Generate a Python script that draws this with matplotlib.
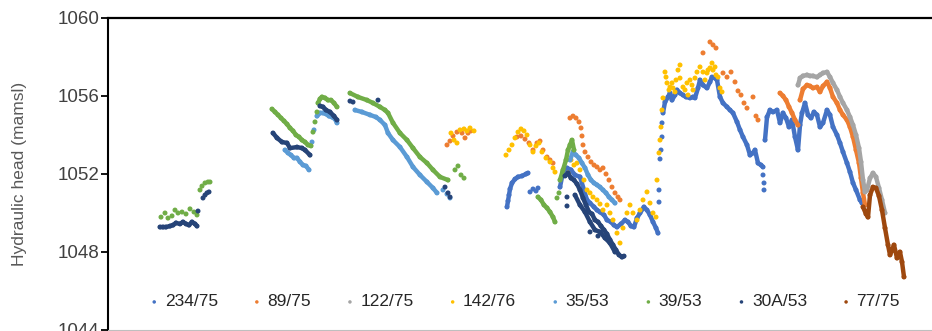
import matplotlib.pyplot as plt

plt.rcParams['font.family'] = ['Liberation Sans', 'DejaVu Sans']

# hydraulic head (mamsl) against day of record
# "tracks" are dense runs of readings, "dots" are scattered readings

names = ['234/75', '89/75', '122/75', '142/76', '35/53', '39/53', '30A/53', '77/75']
colors = ['#4472C4', '#ED7D31', '#A5A5A5', '#FFC000', '#5B9BD5', '#70AD47', '#264478', '#9E480E']

w234_tracks = [
    ([399, 400, 401, 402, 404, 407, 410, 414, 418, 420],
     [1050.31, 1050.62, 1050.92, 1051.23, 1051.54, 1051.74, 1051.85, 1051.90, 1052.00, 1052.05]),
    ([452, 455, 459, 463, 467, 472, 476, 479, 482, 486, 489, 492, 496, 499, 503, 506, 509, 513, 517, 520,
      523, 526, 529, 532, 536, 539, 542, 545, 548, 550],
     [1051.33, 1052.10, 1052.31, 1052.21, 1051.95, 1051.85, 1051.18, 1050.67, 1050.51, 1050.31, 1050.15,
      1050.05, 1049.90, 1049.64, 1049.54, 1049.38, 1049.28, 1049.44, 1049.64, 1049.54, 1049.33, 1049.28,
      1049.74, 1050.00, 1050.31, 1050.15, 1049.90, 1049.54, 1049.23, 1048.97]),
    ([555, 557, 560, 562, 564, 567, 569, 572, 575, 578, 582, 585, 587, 590, 592, 595, 599, 602, 604, 607,
      609, 612, 615, 619, 622, 625, 629, 632, 635, 639, 642, 645, 647, 650, 653, 655],
     [1055.13, 1055.69, 1055.95, 1056.15, 1055.79, 1056.05, 1056.31, 1056.15, 1056.05, 1055.95, 1055.90,
      1055.95, 1055.90, 1056.41, 1056.82, 1056.56, 1056.41, 1056.72, 1056.97, 1056.92, 1056.82, 1055.95,
      1055.64, 1055.44, 1055.28, 1055.13, 1054.67, 1054.26, 1053.90, 1053.49, 1052.97, 1053.08, 1053.23,
      1052.56, 1052.46, 1052.36]),
    ([657, 659, 662, 665, 669, 672, 675, 678, 681, 684, 687, 690, 692, 694, 697, 700, 703, 706, 709, 712,
      715, 719, 722, 725, 729, 732, 735, 739, 742, 745, 748, 752, 754],
     [1053.74, 1054.92, 1055.28, 1055.18, 1055.28, 1054.62, 1055.13, 1054.87, 1054.41, 1054.77, 1053.90,
      1053.23, 1054.51, 1055.13, 1055.64, 1055.03, 1054.87, 1055.18, 1055.03, 1054.41, 1054.62, 1055.28,
      1055.03, 1054.41, 1054.00, 1053.59, 1053.13, 1052.56, 1052.10, 1051.54, 1051.18, 1050.67, 1050.51]),
]
w234_dots = [
    ([422, 425, 428, 430], [1051.08, 1051.23, 1051.13, 1051.28]),
    ([551, 551, 552, 553, 554, 554], [1050.56, 1051.18, 1052.77, 1053.23, 1053.90, 1054.62]),
    ([655, 656, 656], [1051.95, 1051.54, 1051.18]),
]

w89_tracks = [
    ([672, 675, 678, 681, 684, 687, 690],
     [1056.15, 1056.00, 1055.79, 1055.44, 1055.13, 1054.77, 1054.51]),
    ([692, 695, 699, 702, 705, 709, 712, 715, 719, 722, 725, 729, 732, 735, 739, 742, 745, 748, 751, 753,
      755, 757],
     [1055.79, 1056.36, 1056.56, 1056.51, 1056.41, 1056.46, 1056.21, 1056.51, 1056.72, 1056.41, 1055.95,
      1055.64, 1055.28, 1055.03, 1054.77, 1054.41, 1053.90, 1053.23, 1052.56, 1051.79, 1051.03, 1050.41]),
]
w89_dots = [
    ([339, 342, 345, 349, 354, 357, 360, 363],
     [1053.49, 1053.69, 1053.95, 1054.15, 1054.10, 1053.85, 1054.10, 1054.21]),
    ([409, 413, 417, 421, 425, 429, 432, 435, 439, 442, 445],
     [1053.90, 1053.95, 1053.79, 1053.59, 1053.23, 1053.59, 1053.69, 1053.23, 1052.87, 1052.72, 1052.56]),
    ([462, 465, 468, 471, 473, 474, 475, 477, 480, 483, 486, 489, 492, 495, 498, 501, 504, 507, 510, 512],
     [1054.87, 1054.97, 1054.87, 1054.67, 1054.36, 1053.95, 1053.49, 1053.13, 1052.87, 1052.62, 1052.46,
      1052.36, 1052.21, 1052.31, 1052.00, 1051.69, 1051.33, 1051.03, 1050.82, 1050.67]),
    ([595, 602, 605, 608, 615, 619, 623, 627, 630, 633, 636, 639, 645, 648, 650],
     [1058.21, 1058.77, 1058.62, 1058.46, 1057.18, 1056.97, 1057.23, 1056.72, 1056.26, 1056.05, 1055.64,
      1055.38, 1055.95, 1054.97, 1054.77]),
]

w122_tracks = [
    ([690, 692, 695, 699, 702, 705, 709, 712, 715, 719, 722, 725, 729, 732, 735, 739, 742, 745, 748, 751,
      753, 755, 757, 759, 762, 765, 768, 771, 774, 777],
     [1056.56, 1056.92, 1057.03, 1057.08, 1057.03, 1057.03, 1056.97, 1057.08, 1057.18, 1057.23, 1056.97,
      1056.67, 1056.31, 1055.95, 1055.64, 1055.28, 1054.92, 1054.51, 1054.00, 1053.33, 1052.62, 1051.69,
      1051.08, 1051.18, 1051.79, 1052.05, 1051.85, 1051.28, 1050.67, 1050.00]),
]
w122_dots = []

w142_tracks = []
w142_dots = [
    ([343, 346, 349, 352, 356, 359, 362, 366],
     [1054.10, 1053.74, 1053.59, 1054.26, 1054.31, 1054.21, 1054.36, 1054.21]),
    ([398, 401, 404, 407, 410, 413, 416, 419, 422, 425, 428, 431, 434, 438, 442, 445, 447],
     [1052.97, 1053.23, 1053.49, 1053.85, 1054.15, 1054.31, 1054.21, 1054.00, 1053.49, 1053.13, 1053.44,
      1053.59, 1053.13, 1052.82, 1052.62, 1052.31, 1052.10]),
    ([460, 463, 466, 469, 472, 476, 479, 482, 485, 489, 492, 495, 499, 502, 505, 509, 512, 515, 519, 522,
      525, 529, 532, 535, 539, 542, 545, 548],
     [1052.05, 1052.72, 1052.46, 1052.56, 1052.21, 1051.69, 1051.18, 1051.03, 1050.82, 1050.67, 1050.46,
      1050.15, 1050.41, 1050.00, 1049.64, 1048.97, 1048.46, 1049.23, 1050.00, 1050.41, 1050.00, 1049.64,
      1050.15, 1050.67, 1051.08, 1050.51, 1050.00, 1049.79]),
    ([549, 551, 552, 553, 554], [1051.69, 1053.08, 1053.74, 1054.41, 1055.28]),
    ([555, 557, 559, 562, 565, 568, 570, 572, 575, 579, 582, 585, 589, 592, 595, 599, 602, 604, 607, 610,
      612, 614],
     [1055.90, 1057.23, 1056.67, 1056.46, 1056.41, 1056.82, 1057.33, 1057.59, 1056.46, 1056.67, 1056.82,
      1056.31, 1057.23, 1057.49, 1057.23, 1057.18, 1057.44, 1057.69, 1057.49, 1056.97, 1056.41, 1056.21]),
    ([558, 561, 564, 567, 572, 577, 580, 584, 587, 597, 600, 605, 608],
     [1056.97, 1056.31, 1056.67, 1056.21, 1056.92, 1056.31, 1056.05, 1056.56, 1056.92, 1056.82, 1057.33,
      1057.33, 1057.08]),
]

w35_tracks = [
    ([177, 180, 183, 186, 189, 192, 195, 198, 201],
     [1053.23, 1053.08, 1052.97, 1052.82, 1052.82, 1052.62, 1052.46, 1052.41, 1052.21]),
    ([209, 212, 215, 218, 221, 224, 227, 229],
     [1054.97, 1055.13, 1055.13, 1055.08, 1054.97, 1054.92, 1054.82, 1054.62]),
    ([247, 254, 262, 268, 272, 277, 280, 285, 292, 299, 305, 312, 319, 325, 329],
     [1055.28, 1055.18, 1055.03, 1054.92, 1054.77, 1054.51, 1054.10, 1053.74, 1053.38, 1052.87, 1052.36,
      1051.95, 1051.59, 1051.28, 1051.03]),
    ([462, 465, 468, 471, 474, 477, 480, 483, 486, 489, 492, 495, 498, 501, 504, 507],
     [1052.72, 1053.13, 1052.97, 1052.82, 1052.56, 1052.31, 1051.95, 1051.69, 1051.54, 1051.44, 1051.33,
      1051.18, 1051.03, 1050.82, 1050.67, 1050.51]),
]
w35_dots = [
    ([204, 206], [1053.64, 1054.26]),
    ([335, 339, 342], [1051.18, 1050.97, 1050.77]),
]

w39_tracks = [
    ([164, 167, 170, 173, 176, 179, 182, 185, 188, 191, 194, 197, 200, 203],
     [1055.33, 1055.18, 1055.03, 1054.87, 1054.72, 1054.56, 1054.36, 1054.21, 1054.00, 1053.90, 1053.74,
      1053.64, 1053.49, 1053.44]),
    ([210, 212, 214, 217, 220, 223, 226, 229],
     [1055.64, 1055.85, 1055.95, 1055.90, 1055.79, 1055.79, 1055.64, 1055.44]),
    ([242, 250, 259, 265, 272, 277, 280, 285, 292, 299, 305, 312, 319, 325, 332, 340],
     [1056.15, 1055.95, 1055.79, 1055.64, 1055.44, 1055.28, 1055.13, 1054.62, 1054.10, 1053.74, 1053.33,
      1052.87, 1052.56, 1052.21, 1051.85, 1051.69]),
    ([430, 433, 436, 439, 442, 445, 447],
     [1050.82, 1050.67, 1050.41, 1050.26, 1050.05, 1049.79, 1049.54]),
    ([452, 455, 458, 460, 462, 464, 466],
     [1051.69, 1052.21, 1052.72, 1053.23, 1053.49, 1053.74, 1053.23]),
]
w39_dots = [
    ([53, 57, 60, 64, 67, 70, 74, 78, 82, 86, 89],
     [1049.79, 1050.00, 1049.74, 1049.85, 1050.15, 1050.00, 1050.05, 1049.95, 1050.21, 1050.05, 1049.90]),
    ([92, 94, 97, 100, 102], [1051.18, 1051.38, 1051.54, 1051.59, 1051.59]),
    ([205, 207, 209], [1054.15, 1054.67, 1055.18]),
    ([347, 350, 353, 356], [1052.21, 1052.41, 1051.95, 1051.79]),
    ([449, 451], [1050.77, 1051.03]),
]

w30a_tracks = [
    ([52, 55, 58, 62, 65, 68, 72, 75, 78, 81, 84, 87, 89],
     [1049.28, 1049.28, 1049.28, 1049.33, 1049.38, 1049.49, 1049.44, 1049.54, 1049.44, 1049.38, 1049.54,
      1049.44, 1049.33]),
    ([165, 169, 174, 179, 182, 189, 194, 197, 202],
     [1054.10, 1053.85, 1053.64, 1053.59, 1053.33, 1053.38, 1053.33, 1053.23, 1052.97]),
    ([212, 215, 218, 222, 226, 229], [1055.49, 1055.44, 1055.28, 1055.18, 1054.97, 1054.77]),
    ([457, 460, 463, 466, 469, 472, 475, 478, 481, 484, 487, 490, 493, 496, 499, 502, 505, 508, 511, 514, 516],
     [1051.90, 1052.05, 1051.79, 1051.69, 1051.49, 1051.18, 1050.77, 1050.41, 1050.05, 1049.95, 1049.64,
      1049.54, 1049.33, 1049.13, 1048.92, 1048.62, 1048.36, 1048.10, 1047.85, 1047.74, 1047.79]),
    ([467, 472, 477, 482, 487, 492, 497, 502, 507],
     [1050.92, 1050.41, 1050.05, 1049.54, 1049.13, 1049.03, 1048.72, 1048.46, 1048.00]),
]
w30a_dots = [
    ([90, 95, 97, 99, 101], [1050.10, 1050.77, 1050.92, 1051.03, 1051.08]),
    ([242, 245, 270], [1055.74, 1055.69, 1055.79]),
    ([337, 340, 342], [1051.33, 1051.03, 1050.82]),
    ([459, 459, 482, 490], [1050.82, 1050.36, 1049.03, 1048.82]),
]

w77_tracks = [
    ([755, 758, 760, 762, 765, 768, 771, 774, 777, 780, 782, 784, 786, 789, 792, 794, 796],
     [1050.31, 1049.95, 1049.79, 1050.92, 1051.33, 1051.28, 1050.87, 1050.15, 1049.23, 1048.36, 1047.85,
      1048.10, 1048.36, 1047.69, 1048.00, 1047.49, 1046.72]),
]
w77_dots = []

all_tracks = [w234_tracks, w89_tracks, w122_tracks, w142_tracks, w35_tracks, w39_tracks, w30a_tracks, w77_tracks]
all_dots = [w234_dots, w89_dots, w122_dots, w142_dots, w35_dots, w39_dots, w30a_dots, w77_dots]

fig = plt.figure(figsize=(9.32, 3.31), dpi=100)
ax = fig.add_axes([108 / 932, 1 / 331, 824 / 932, 312 / 331])

for i, (name, color, tracks, dots) in enumerate(zip(names, colors, all_tracks, all_dots)):
    xs, ys = [], []
    for x, y in tracks:
        ax.plot(x, y, color=color, lw=3.2, solid_capstyle='round', solid_joinstyle='round', zorder=2 + i)
        xs += x
        ys += y
    for x, y in dots:
        xs += x
        ys += y
    ax.scatter(xs, ys, s=13, color=color, edgecolors='none', zorder=2 + i, label=name)

ax.set_xlim(0, 824)
ax.set_ylim(1044, 1060)
ax.set_yticks([1044, 1048, 1052, 1056, 1060])
ax.set_xticks([])

ax.spines['right'].set_visible(False)
ax.spines['left'].set_linewidth(1.5)
ax.spines['top'].set_linewidth(1.6)
ax.spines['bottom'].set_color('#bfbfbf')
ax.tick_params(axis='y', direction='out', length=5, width=1.3, labelsize=13.5,
               labelcolor='#404040', pad=1)

ax.set_ylabel('Hydraulic head (mamsl)', fontsize=12.5, color='#595959')
ax.yaxis.set_label_coords(-81 / 824, 0.5)

leg = ax.legend(loc='center', bbox_to_anchor=(0.506, 0.09), ncol=8, frameon=False, fontsize=12.5,
                handlelength=0.5, handletextpad=0.35, columnspacing=2.0, scatterpoints=1,
                markerscale=0.7)
for t in leg.get_texts():
    t.set_color('#262626')

fig.savefig('out.png', dpi=100)
